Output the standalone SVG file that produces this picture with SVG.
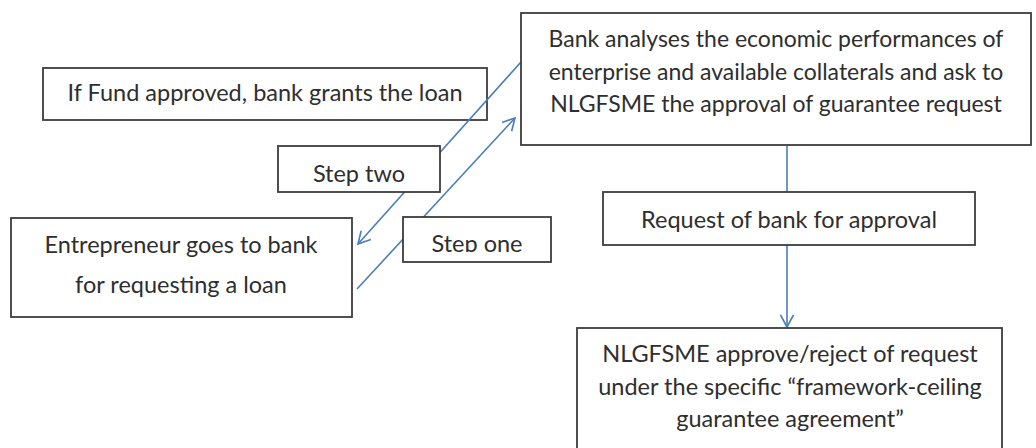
<svg xmlns="http://www.w3.org/2000/svg" width="1036" height="448" viewBox="0 0 1036 448">
<style>
.box{fill:#fff;stroke:#3c3c3c;stroke-width:1.8}
.t{font-family:Lato,"Liberation Sans",sans-serif;font-size:23.5px;fill:#2e2e2e;text-anchor:middle}
.b{font-size:23px}
.con{stroke:#4a7ebb;stroke-width:1.6;fill:none;marker-end:url(#arr)}
</style>
<defs>
<marker id="arr" markerUnits="userSpaceOnUse" markerWidth="16" markerHeight="16" refX="13" refY="8" orient="auto">
<path d="M1,1.5 L13,8 L1,14.5" fill="none" stroke="#4a7ebb" stroke-width="1.6"/>
</marker>
<clipPath id="clipOne"><rect x="404" y="218" width="146" height="34"/></clipPath>
</defs>
<g id="n-fund">
<rect class="box" x="43" y="68" width="444" height="52"/>
<text class="t" x="265" y="101">If Fund approved, bank grants the loan</text>
</g>
<g id="connectors">
<line class="con" x1="521" y1="62" x2="358" y2="244"/>
<line class="con" x1="357" y1="289" x2="515" y2="118"/>
<line class="con" x1="787" y1="146" x2="787" y2="327"/>
</g>
<g id="n-bank">
<rect class="box" x="521" y="13" width="510" height="132" style="fill:none"/>
<text class="t b" x="776" y="47">Bank analyses the economic performances of</text>
<text class="t b" x="776" y="80">enterprise and available collaterals and ask to</text>
<text class="t b" x="776" y="112">NLGFSME the approval of guarantee request</text>
</g>
<g id="n-step2">
<rect class="box" x="278" y="146" width="162" height="46"/>
<text class="t" x="359" y="182">Step two</text>
</g>
<g id="n-entre">
<rect class="box" x="11" y="218" width="341" height="99"/>
<text class="t" x="181" y="253">Entrepreneur goes to bank</text>
<text class="t" x="181" y="293">for requesting a loan</text>
</g>
<g id="n-step1">
<rect class="box" x="403" y="217" width="148" height="45"/>
<text class="t" x="477" y="252" clip-path="url(#clipOne)">Step one</text>
</g>
<g id="n-request">
<rect class="box" x="603" y="192" width="372" height="53"/>
<text class="t" x="789" y="228">Request of bank for approval</text>
</g>
<g id="n-nlg">
<rect class="box" x="577" y="328" width="425" height="130"/>
<text class="t" x="790" y="362">NLGFSME approve/reject of request</text>
<text class="t" x="790" y="395">under the specific “framework-ceiling</text>
<text class="t" x="790" y="427">guarantee agreement”</text>
</g>
</svg>
